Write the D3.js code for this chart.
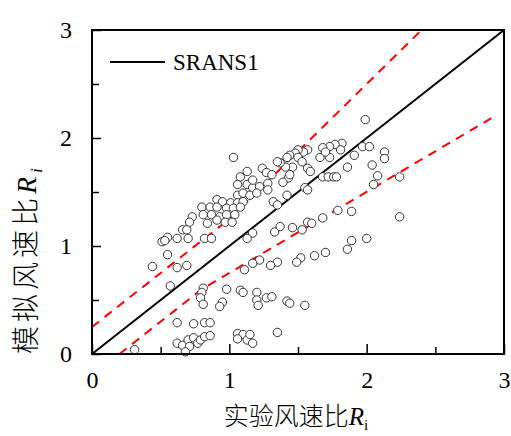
<!DOCTYPE html>
<html>
<head>
<meta charset="utf-8">
<script src="https://cdn.jsdelivr.net/npm/d3@7"></script>
<style>
  body { margin: 0; background: #fff; }
</style>
</head>
<body>
<div id="chart"></div>
<script>
// experimental (x) and simulated (y) wind speed ratios
const expRi = [1.06,1.13,1.17,1.22,1.28,1.28,1.06,1.10,1.15,1.20,0.91,0.95,1.01,1.06,1.10,0.80,0.86,0.91,0.98,1.03,1.08,0.73,0.81,0.87,0.93,0.98,1.04,0.84,0.91,0.97,1.02,0.71,0.66,0.69,1.32,1.35,0.55,0.62,0.70,0.82,0.87,0.51,0.53,0.55,0.44,0.62,0.69,0.57,1.17,1.13,1.33,1.35,1.22,1.17,1.11,1.30,0.81,0.80,0.79,0.81,0.98,1.08,1.10,1.20,1.20,1.21,1.27,1.31,0.95,0.93,0.62,0.74,0.82,0.86,1.35,0.62,0.66,0.70,0.74,0.77,0.79,0.82,0.86,0.71,0.68,1.06,1.10,1.13,1.15,1.17,1.06,0.31,1.03,1.99,1.97,2.02,2.13,2.13,1.91,1.86,2.04,2.08,2.05,2.24,1.68,1.72,1.76,1.78,1.55,1.82,1.77,1.73,1.68,1.66,1.73,1.70,1.81,1.57,1.54,1.50,1.48,1.44,1.50,1.53,1.42,1.46,1.41,1.37,1.57,1.59,1.43,1.39,1.44,1.08,1.13,1.17,1.24,1.27,1.35,1.31,1.57,1.42,1.79,1.89,2.24,1.68,1.57,1.46,1.53,1.37,1.89,1.86,2.00,1.70,1.62,1.52,1.49,1.42,1.44,1.55,1.60];
const simRi = [1.57,1.57,1.54,1.55,1.58,1.52,1.47,1.49,1.47,1.49,1.43,1.41,1.40,1.40,1.41,1.36,1.36,1.36,1.35,1.35,1.36,1.27,1.29,1.29,1.27,1.29,1.29,1.21,1.24,1.22,1.22,1.22,1.15,1.15,1.41,1.38,1.08,1.07,1.07,1.07,1.07,1.04,1.05,0.92,0.81,0.80,0.82,0.63,1.12,1.07,1.13,0.85,0.87,0.84,0.78,0.82,0.61,0.57,0.52,0.46,0.60,0.59,0.57,0.57,0.50,0.45,0.52,0.53,0.48,0.44,0.29,0.28,0.29,0.29,0.20,0.10,0.08,0.13,0.15,0.10,0.13,0.16,0.17,0.07,0.02,0.19,0.18,0.13,0.18,0.10,0.14,0.04,1.82,2.17,1.92,1.92,1.87,1.81,1.84,1.73,1.75,1.65,1.57,1.64,1.64,1.64,1.64,1.64,1.54,1.95,1.94,1.92,1.91,1.82,1.82,1.87,1.89,1.89,1.87,1.89,1.86,1.84,1.82,1.78,1.82,1.73,1.73,1.77,1.72,1.69,1.63,1.59,1.66,1.64,1.69,1.61,1.72,1.68,1.78,1.66,1.52,1.47,1.33,1.32,1.27,1.26,1.22,1.17,1.15,1.18,1.05,0.97,1.07,0.94,0.91,0.89,0.85,0.49,0.47,0.45,1.21];

const identityLine = [[0, 0], [3, 3]];
const upperBound = [[0, 0.25], [1, 1.25], [2.4, 3]];
const lowerBound = [[0.2, 0], [0.8, 0.6], [2.93, 2.2]];

const tickVals = [0, 0.5, 1, 1.5, 2, 2.5, 3];
const legendLabel = "SRANS1";

let margin = { top: 30, right: 7, bottom: 82, left: 92 },
  width = 511 - margin.left - margin.right,
  height = 436 - margin.top - margin.bottom;

let svg = d3
  .select("#chart")
  .append("svg")
  .attr("width", 511)
  .attr("height", 436)
  .append("g")
  .attr("transform", `translate(${margin.left}, ${margin.top})`);

let x = d3.scaleLinear().domain([0, 3]).range([0, width]);
let y = d3.scaleLinear().domain([0, 3]).range([height, 0]);

const serif = "'Liberation Serif', 'Times New Roman', serif";
const cjk = "'Noto Sans CJK SC', sans-serif";
const fmt = (d) => (Number.isInteger(d) ? d : "");

// x axis, ticks pointing inward
let xAxis = svg
  .append("g")
  .attr("transform", `translate(0,${height})`)
  .call(d3.axisBottom(x).tickValues(tickVals).tickSize(-7).tickPadding(17).tickFormat(fmt));
xAxis.select(".domain").remove();
xAxis.selectAll(".tick line")
  .attr("stroke", "#000")
  .attr("stroke-width", 1.5)
  .attr("y2", (d) => (Number.isInteger(d) ? -10 : -7));
xAxis.selectAll(".tick text")
  .style("font-family", serif)
  .style("font-size", "24px")
  .style("fill", "#000");

// y axis
let yAxis = svg
  .append("g")
  .call(d3.axisLeft(y).tickValues(tickVals).tickSize(-7).tickPadding(20).tickFormat(fmt));
yAxis.select(".domain").remove();
yAxis.selectAll(".tick line")
  .attr("stroke", "#000")
  .attr("stroke-width", 1.5)
  .attr("x2", (d) => (Number.isInteger(d) ? 9 : 7));
yAxis.selectAll(".tick text")
  .style("font-family", serif)
  .style("font-size", "24px")
  .style("fill", "#000");

let line = d3.line().x((d) => x(d[0])).y((d) => y(d[1]));

// red dashed bands
[upperBound, lowerBound].forEach((pts) => {
  svg.append("path")
    .attr("d", line(pts))
    .attr("fill", "none")
    .attr("stroke", "#ff0000")
    .attr("stroke-width", 2)
    .attr("stroke-dasharray", "9,7");
});

// 1:1 line
svg.append("path")
  .attr("d", line(identityLine))
  .attr("fill", "none")
  .attr("stroke", "#000")
  .attr("stroke-width", 2);

// points
svg.selectAll(".dot")
  .data(expRi.map((v, i) => [v, simRi[i]]))
  .enter()
  .append("circle")
  .attr("class", "dot")
  .attr("cx", (d) => x(d[0]))
  .attr("cy", (d) => y(d[1]))
  .attr("r", 4.2)
  .attr("fill", "#fff")
  .attr("stroke", "#333")
  .attr("stroke-width", 1);

// frame
svg.append("rect")
  .attr("width", width)
  .attr("height", height)
  .attr("fill", "none")
  .attr("stroke", "#000")
  .attr("stroke-width", 2);

// legend
svg.append("line")
  .attr("x1", 18).attr("x2", 73)
  .attr("y1", 32).attr("y2", 32)
  .attr("stroke", "#000")
  .attr("stroke-width", 2);
svg.append("text")
  .attr("x", 81)
  .attr("y", 40)
  .style("font-family", serif)
  .style("font-size", "23px")
  .text(legendLabel);

// x title
let xt = svg.append("text")
  .attr("x", width / 2 - 2)
  .attr("y", height + 71)
  .attr("text-anchor", "middle")
  .style("font-size", "25px")
  .style("font-weight", 300)
  .style("font-family", cjk);
xt.append("tspan").text("实验风速比");
xt.append("tspan").style("font-family", serif).style("font-style", "italic").style("font-weight", 400).text("R");
xt.append("tspan").style("font-family", serif).style("font-size", "15px").style("font-weight", 400).attr("dy", 5).text("i");

// y title
let yt = svg.append("text")
  .attr("transform", `translate(${36 - margin.left}, ${height}) rotate(-90)`)
  .attr("text-anchor", "start")
  .style("font-size", "28px")
  .style("font-weight", 300)
  .style("letter-spacing", "4px")
  .style("font-family", cjk);
yt.append("tspan").text("模拟风速比");
yt.append("tspan").style("font-family", serif).style("font-style", "italic").style("font-weight", 400).text("R");
yt.append("tspan").style("font-family", serif).style("font-style", "italic").style("font-weight", 400).style("font-size", "17px").attr("dy", 6).text("i");
</script>
</body>
</html>
